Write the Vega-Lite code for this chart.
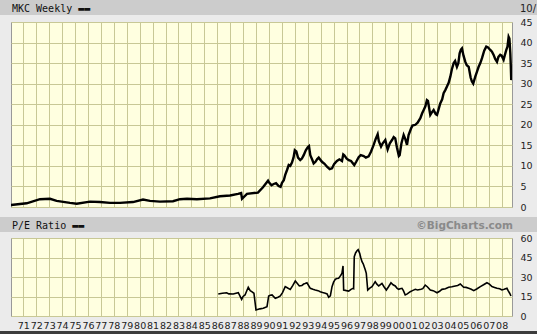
{
  "$schema": "https://vega.github.io/schema/vega-lite/v6.json",
  "padding": 0,
  "background": "#ebebeb",
  "config": {"view": {"stroke": null}},
  "datasets": {
    "price": [
      {"t": 1970.05, "p": 0.5}, {"t": 1971.26, "p": 0.9}, {"t": 1972.29, "p": 1.9}, {"t": 1973.07, "p": 2.0},
      {"t": 1973.58, "p": 1.5}, {"t": 1974.61, "p": 1.0}, {"t": 1975.13, "p": 0.8}, {"t": 1976.16, "p": 1.3},
      {"t": 1976.93, "p": 1.2}, {"t": 1977.71, "p": 1.0}, {"t": 1978.48, "p": 1.0}, {"t": 1979.48, "p": 1.2},
      {"t": 1980.26, "p": 1.8}, {"t": 1980.8, "p": 1.5}, {"t": 1981.57, "p": 1.3}, {"t": 1982.58, "p": 1.4},
      {"t": 1983.12, "p": 1.9}, {"t": 1983.66, "p": 2.0}, {"t": 1984.43, "p": 1.9}, {"t": 1985.44, "p": 2.1},
      {"t": 1986.21, "p": 2.6}, {"t": 1986.99, "p": 2.8}, {"t": 1987.61, "p": 3.2}, {"t": 1987.85, "p": 3.4},
      {"t": 1987.92, "p": 2.0}, {"t": 1988.3, "p": 3.2}, {"t": 1989.15, "p": 3.5}, {"t": 1989.54, "p": 4.8},
      {"t": 1989.93, "p": 6.4}, {"t": 1990.37, "p": 5.6}, {"t": 1990.75, "p": 5.1}, {"t": 1991.01, "p": 5.9},
      {"t": 1991.26, "p": 7.8}, {"t": 1991.53, "p": 10.2}, {"t": 1991.78, "p": 10.8}, {"t": 1992.12, "p": 13.5},
      {"t": 1992.42, "p": 11.4}, {"t": 1992.69, "p": 12.6}, {"t": 1993.0, "p": 14.5}, {"t": 1993.2, "p": 12.6},
      {"t": 1993.46, "p": 10.6}, {"t": 1993.72, "p": 11.6}, {"t": 1994.1, "p": 11.0}, {"t": 1994.49, "p": 9.8},
      {"t": 1994.88, "p": 9.4}, {"t": 1995.26, "p": 11.2}, {"t": 1995.65, "p": 11.2}, {"t": 1995.83, "p": 12.6},
      {"t": 1996.17, "p": 11.4}, {"t": 1996.6, "p": 10.2}, {"t": 1996.94, "p": 12.1}, {"t": 1997.33, "p": 12.4},
      {"t": 1997.71, "p": 12.3}, {"t": 1998.1, "p": 15.1}, {"t": 1998.41, "p": 17.7}, {"t": 1998.67, "p": 14.7},
      {"t": 1999.0, "p": 16.3}, {"t": 1999.18, "p": 14.0}, {"t": 1999.52, "p": 16.3}, {"t": 1999.77, "p": 16.7},
      {"t": 2000.11, "p": 12.6}, {"t": 2000.42, "p": 17.5}, {"t": 2000.68, "p": 15.1}, {"t": 2000.99, "p": 19.1},
      {"t": 2001.32, "p": 20.0}, {"t": 2001.71, "p": 21.6}, {"t": 2001.97, "p": 23.6}, {"t": 2002.22, "p": 26.0},
      {"t": 2002.48, "p": 22.4}, {"t": 2002.74, "p": 23.6}, {"t": 2003.0, "p": 22.4}, {"t": 2003.25, "p": 25.2},
      {"t": 2003.51, "p": 27.7}, {"t": 2003.77, "p": 29.3}, {"t": 2004.03, "p": 31.7}, {"t": 2004.29, "p": 35.0},
      {"t": 2004.54, "p": 34.1}, {"t": 2004.75, "p": 37.4}, {"t": 2004.93, "p": 38.6}, {"t": 2005.19, "p": 35.3},
      {"t": 2005.45, "p": 34.1}, {"t": 2005.7, "p": 30.5}, {"t": 2005.96, "p": 31.7}, {"t": 2006.22, "p": 34.1},
      {"t": 2006.48, "p": 36.2}, {"t": 2006.81, "p": 39.0}, {"t": 2007.12, "p": 38.2}, {"t": 2007.38, "p": 37.0},
      {"t": 2007.64, "p": 35.3}, {"t": 2007.89, "p": 37.0}, {"t": 2008.15, "p": 35.8}, {"t": 2008.36, "p": 38.2},
      {"t": 2008.54, "p": 41.4}, {"t": 2008.67, "p": 37.4}, {"t": 2008.74, "p": 30.9},
      {"t": 1990.0, "p": 6.0}, {"t": 1990.2, "p": 5.3}, {"t": 1990.55, "p": 5.8}, {"t": 1990.9, "p": 4.9},
      {"t": 1991.15, "p": 6.5}, {"t": 1991.4, "p": 9.0}, {"t": 1991.65, "p": 10.0}, {"t": 1991.9, "p": 12.0},
      {"t": 1992.0, "p": 13.8}, {"t": 1992.25, "p": 12.0}, {"t": 1992.55, "p": 11.8}, {"t": 1992.85, "p": 13.8},
      {"t": 1993.1, "p": 14.8}, {"t": 1993.35, "p": 11.5}, {"t": 1993.6, "p": 11.0}, {"t": 1993.85, "p": 12.0},
      {"t": 1994.3, "p": 10.5}, {"t": 1994.7, "p": 9.2}, {"t": 1995.05, "p": 10.5}, {"t": 1995.45, "p": 11.6},
      {"t": 1995.75, "p": 12.8}, {"t": 1996.0, "p": 11.8}, {"t": 1996.35, "p": 11.2}, {"t": 1996.75, "p": 11.0},
      {"t": 1997.1, "p": 12.6}, {"t": 1997.5, "p": 12.0}, {"t": 1997.9, "p": 13.5}, {"t": 1998.25, "p": 16.5},
      {"t": 1998.5, "p": 16.0}, {"t": 1998.8, "p": 15.5}, {"t": 1999.1, "p": 15.0}, {"t": 1999.35, "p": 15.5},
      {"t": 1999.65, "p": 17.0}, {"t": 1999.9, "p": 14.5}, {"t": 2000.05, "p": 12.4}, {"t": 2000.25, "p": 15.5},
      {"t": 2000.55, "p": 16.5}, {"t": 2000.8, "p": 17.5}, {"t": 2001.1, "p": 19.8}, {"t": 2001.5, "p": 20.5},
      {"t": 2001.85, "p": 22.8}, {"t": 2002.1, "p": 24.5}, {"t": 2002.3, "p": 25.8}, {"t": 2002.6, "p": 23.0},
      {"t": 2002.9, "p": 22.6}, {"t": 2003.1, "p": 23.5}, {"t": 2003.4, "p": 26.2}, {"t": 2003.65, "p": 28.5},
      {"t": 2003.9, "p": 30.2}, {"t": 2004.15, "p": 33.5}, {"t": 2004.4, "p": 35.5}, {"t": 2004.65, "p": 35.0},
      {"t": 2004.85, "p": 38.3}, {"t": 2005.05, "p": 36.8}, {"t": 2005.3, "p": 34.5}, {"t": 2005.6, "p": 31.5},
      {"t": 2005.8, "p": 30.0}, {"t": 2006.1, "p": 33.0}, {"t": 2006.35, "p": 35.0}, {"t": 2006.65, "p": 38.0},
      {"t": 2006.95, "p": 38.8}, {"t": 2007.25, "p": 37.8}, {"t": 2007.5, "p": 36.0}, {"t": 2007.75, "p": 36.5},
      {"t": 2008.0, "p": 36.8}, {"t": 2008.25, "p": 37.0}, {"t": 2008.45, "p": 39.0}, {"t": 2008.6, "p": 41.0},
      {"t": 2008.7, "p": 35.0}, {"t": 2008.78, "p": 31.5}
    ],
    "pe": [
      {"t": 1986.08, "v": 16.9}, {"t": 1986.73, "v": 17.9}, {"t": 1987.24, "v": 16.9}, {"t": 1987.63, "v": 17.9},
      {"t": 1987.89, "v": 12.8}, {"t": 1988.15, "v": 16.2}, {"t": 1988.4, "v": 22.1}, {"t": 1988.67, "v": 18.7},
      {"t": 1988.84, "v": 17.5}, {"t": 1989.0, "v": 4.6}, {"t": 1989.56, "v": 5.9}, {"t": 1989.85, "v": 7.2},
      {"t": 1989.98, "v": 15.4}, {"t": 1990.24, "v": 16.2}, {"t": 1990.49, "v": 13.6}, {"t": 1990.88, "v": 15.4},
      {"t": 1991.26, "v": 22.6}, {"t": 1991.65, "v": 20.5}, {"t": 1992.04, "v": 26.9}, {"t": 1992.35, "v": 23.1},
      {"t": 1992.69, "v": 24.6}, {"t": 1992.94, "v": 25.6}, {"t": 1993.2, "v": 21.3}, {"t": 1993.58, "v": 20.0},
      {"t": 1993.97, "v": 18.7}, {"t": 1994.36, "v": 17.5}, {"t": 1994.62, "v": 14.4}, {"t": 1994.88, "v": 22.6},
      {"t": 1995.13, "v": 28.2}, {"t": 1995.39, "v": 29.0}, {"t": 1995.57, "v": 31.5}, {"t": 1995.73, "v": 38.5},
      {"t": 1995.78, "v": 20.0}, {"t": 1996.17, "v": 19.2}, {"t": 1996.5, "v": 21.3}, {"t": 1996.6, "v": 45.6},
      {"t": 1996.81, "v": 50.2}, {"t": 1997.02, "v": 48.2}, {"t": 1997.2, "v": 41.8}, {"t": 1997.37, "v": 37.9},
      {"t": 1997.53, "v": 32.8}, {"t": 1997.64, "v": 20.0}, {"t": 1997.97, "v": 22.6}, {"t": 1998.22, "v": 26.4},
      {"t": 1998.49, "v": 23.1}, {"t": 1998.74, "v": 25.1}, {"t": 1999.08, "v": 20.0}, {"t": 1999.44, "v": 25.6},
      {"t": 1999.77, "v": 23.1}, {"t": 2000.03, "v": 20.5}, {"t": 2000.29, "v": 21.3}, {"t": 2000.54, "v": 16.2},
      {"t": 2000.93, "v": 18.7}, {"t": 2001.32, "v": 20.5}, {"t": 2001.76, "v": 20.5}, {"t": 2002.09, "v": 23.8},
      {"t": 2002.48, "v": 20.0}, {"t": 2003.0, "v": 17.9}, {"t": 2003.38, "v": 20.5}, {"t": 2003.9, "v": 22.1},
      {"t": 2004.41, "v": 23.1}, {"t": 2004.8, "v": 24.6}, {"t": 2005.06, "v": 22.1}, {"t": 2005.45, "v": 21.3},
      {"t": 2005.84, "v": 19.5}, {"t": 2006.35, "v": 22.6}, {"t": 2006.86, "v": 25.6}, {"t": 2007.25, "v": 22.6},
      {"t": 2007.64, "v": 21.3}, {"t": 2008.02, "v": 20.0}, {"t": 2008.41, "v": 21.3}, {"t": 2008.62, "v": 17.5},
      {"t": 2008.72, "v": 15.4},
      {"t": 1986.4, "v": 17.5}, {"t": 1986.9, "v": 17.0}, {"t": 1987.45, "v": 17.5}, {"t": 1988.0, "v": 15.0},
      {"t": 1988.55, "v": 19.5}, {"t": 1989.3, "v": 5.5}, {"t": 1990.1, "v": 16.0}, {"t": 1990.7, "v": 14.5},
      {"t": 1991.05, "v": 18.0}, {"t": 1991.45, "v": 21.5}, {"t": 1991.85, "v": 23.5}, {"t": 1992.2, "v": 25.0},
      {"t": 1992.55, "v": 23.5}, {"t": 1992.8, "v": 25.0}, {"t": 1993.4, "v": 20.5}, {"t": 1993.8, "v": 19.5},
      {"t": 1994.15, "v": 18.0}, {"t": 1994.5, "v": 17.0}, {"t": 1994.75, "v": 15.5}, {"t": 1995.0, "v": 26.0},
      {"t": 1995.25, "v": 28.8}, {"t": 1995.5, "v": 30.5}, {"t": 1995.65, "v": 33.0}, {"t": 1996.0, "v": 19.5},
      {"t": 1996.35, "v": 20.5}, {"t": 1996.55, "v": 21.0}, {"t": 1996.7, "v": 48.5}, {"t": 1996.9, "v": 51.0},
      {"t": 1997.1, "v": 45.0}, {"t": 1997.3, "v": 40.0}, {"t": 1997.45, "v": 35.5}, {"t": 1997.8, "v": 21.5},
      {"t": 1998.1, "v": 24.5}, {"t": 1998.35, "v": 24.5}, {"t": 1998.6, "v": 24.0}, {"t": 1998.9, "v": 22.5},
      {"t": 1999.25, "v": 22.5}, {"t": 1999.6, "v": 24.0}, {"t": 1999.9, "v": 21.5}, {"t": 2000.15, "v": 21.0},
      {"t": 2000.4, "v": 19.5}, {"t": 2000.7, "v": 17.0}, {"t": 2001.1, "v": 19.5}, {"t": 2001.5, "v": 20.0},
      {"t": 2001.9, "v": 21.0}, {"t": 2002.25, "v": 22.5}, {"t": 2002.7, "v": 19.5}, {"t": 2003.2, "v": 19.0},
      {"t": 2003.65, "v": 21.0}, {"t": 2004.15, "v": 22.5}, {"t": 2004.6, "v": 23.5}, {"t": 2005.25, "v": 22.0},
      {"t": 2005.65, "v": 20.5}, {"t": 2006.1, "v": 21.0}, {"t": 2006.6, "v": 24.0}, {"t": 2007.05, "v": 24.5},
      {"t": 2007.45, "v": 22.0}, {"t": 2007.85, "v": 21.0}, {"t": 2008.2, "v": 20.5}, {"t": 2008.5, "v": 19.5}
    ]
  },
  "columns": 2,
  "spacing": 0,
  "bounds": "flush",
  "concat": [
    {"width": 11, "height": 15, "view": {"fill": "#cccccc", "stroke": null}, "data": {"values": []}, "mark": "rect", "encoding": {}},
    {
      "width": 526, "height": 15, "view": {"fill": "#cccccc", "stroke": null},
      "data": {"values": [{"label": "MKC Weekly ▬▬", "side": "left"}, {"label": "10/", "side": "right"}]},
      "encoding": {
        "x": {"field": "side", "type": "nominal", "scale": {"type": "point", "domain": ["left", "right"], "padding": 0}, "axis": null},
        "text": {"field": "label"}
      },
      "layer": [
        {"transform": [{"filter": "datum.side == 'left'"}], "mark": {"type": "text", "align": "left", "baseline": "middle", "dx": 1, "dy": 1, "font": "DejaVu Sans Mono", "fontSize": 10, "color": "#111111"}},
        {"transform": [{"filter": "datum.side == 'right'"}], "mark": {"type": "text", "align": "right", "baseline": "middle", "dx": -1, "dy": 1, "font": "DejaVu Sans", "fontSize": 10, "color": "#222222"}}
      ]
    },
    {"width": 11, "height": 7, "data": {"values": []}, "mark": "rect", "encoding": {}},
    {"width": 526, "height": 7, "data": {"values": []}, "mark": "rect", "encoding": {}},
    {"width": 11, "height": 185, "data": {"values": []}, "mark": "rect", "encoding": {}},
    {
      "width": 501, "height": 185,
      "view": {"fill": "#ffffe0", "stroke": "#999999"},
      "data": {"name": "price"},
      "mark": {"type": "line", "color": "#000000", "strokeWidth": 2.4, "clip": true},
      "encoding": {
        "x": {"field": "t", "type": "quantitative", "scale": {"domain": [1970.05, 2008.8], "nice": false, "zero": false},
          "axis": {"values": [1971,1972,1973,1974,1975,1976,1977,1978,1979,1980,1981,1982,1983,1984,1985,1986,1987,1988,1989,1990,1991,1992,1993,1994,1995,1996,1997,1998,1999,2000,2001,2002,2003,2004,2005,2006,2007,2008],
            "grid": true, "gridColor": "#c8c896", "gridOpacity": 1, "labels": false, "ticks": false, "domain": false, "title": null}},
        "y": {"field": "p", "type": "quantitative", "scale": {"domain": [0, 45], "nice": false},
          "axis": {"orient": "right", "values": [0,5,10,15,20,25,30,35,40,45], "grid": true, "gridColor": "#c8c896", "gridOpacity": 1,
            "ticks": false, "domain": false, "labelPadding": 8, "labelFont": "DejaVu Sans", "labelFontSize": 9.5, "labelColor": "#222222", "title": null}}
      }
    },
    {"width": 11, "height": 10, "data": {"values": []}, "mark": "rect", "encoding": {}},
    {"width": 526, "height": 10, "data": {"values": []}, "mark": "rect", "encoding": {}},
    {"width": 11, "height": 15, "view": {"fill": "#cccccc", "stroke": null}, "data": {"values": []}, "mark": "rect", "encoding": {}},
    {
      "width": 526, "height": 15, "view": {"fill": "#cccccc", "stroke": null},
      "data": {"values": [{"label": "P/E Ratio ▬▬", "side": "left"}, {"label": "©BigCharts.com", "side": "right"}]},
      "encoding": {
        "x": {"field": "side", "type": "nominal", "scale": {"type": "point", "domain": ["left", "right"], "padding": 0}, "axis": null},
        "text": {"field": "label"}
      },
      "layer": [
        {"transform": [{"filter": "datum.side == 'left'"}], "mark": {"type": "text", "align": "left", "baseline": "middle", "dx": 1, "dy": 1, "font": "DejaVu Sans Mono", "fontSize": 10, "color": "#111111"}},
        {"transform": [{"filter": "datum.side == 'right'"}], "mark": {"type": "text", "align": "right", "baseline": "middle", "dx": -24, "dy": 1, "font": "DejaVu Sans", "fontSize": 10.5, "fontWeight": "bold", "color": "#8a8a8a"}}
      ]
    },
    {"width": 11, "height": 6, "data": {"values": []}, "mark": "rect", "encoding": {}},
    {"width": 526, "height": 6, "data": {"values": []}, "mark": "rect", "encoding": {}},
    {"width": 11, "height": 78, "data": {"values": []}, "mark": "rect", "encoding": {}},
    {
      "width": 501, "height": 78,
      "view": {"fill": "#ffffe0", "stroke": "#999999"},
      "data": {"name": "pe"},
      "mark": {"type": "line", "color": "#000000", "strokeWidth": 1.6, "clip": true},
      "encoding": {
        "x": {"field": "t", "type": "quantitative", "scale": {"domain": [1970.05, 2008.8], "nice": false, "zero": false},
          "axis": {"values": [1971,1972,1973,1974,1975,1976,1977,1978,1979,1980,1981,1982,1983,1984,1985,1986,1987,1988,1989,1990,1991,1992,1993,1994,1995,1996,1997,1998,1999,2000,2001,2002,2003,2004,2005,2006,2007,2008],
            "labelExpr": "slice(toString(datum.value), 2)", "labelOverlap": false, "labelFlush": false,
            "grid": true, "gridColor": "#c8c896", "gridOpacity": 1, "ticks": false, "domain": false, "title": null,
            "labelPadding": 4, "labelFont": "DejaVu Sans", "labelFontSize": 9.5, "labelColor": "#222222"}},
        "y": {"field": "v", "type": "quantitative", "scale": {"domain": [0, 60], "nice": false},
          "axis": {"orient": "right", "values": [0,15,30,45,60], "grid": true, "gridColor": "#c8c896", "gridOpacity": 1,
            "ticks": false, "domain": false, "labelPadding": 8, "labelFont": "DejaVu Sans", "labelFontSize": 9.5, "labelColor": "#222222", "title": null}}
      }
    },
    {"width": 11, "height": 15, "data": {"values": []}, "mark": "rect", "encoding": {}},
    {"width": 526, "height": 15, "data": {"values": []}, "mark": "rect", "encoding": {}},
    {"width": 11, "height": 3, "view": {"fill": "#3c3c3c", "stroke": null}, "data": {"values": []}, "mark": "rect", "encoding": {}},
    {"width": 526, "height": 3, "view": {"fill": "#3c3c3c", "stroke": null}, "data": {"values": []}, "mark": "rect", "encoding": {}}
  ]
}
